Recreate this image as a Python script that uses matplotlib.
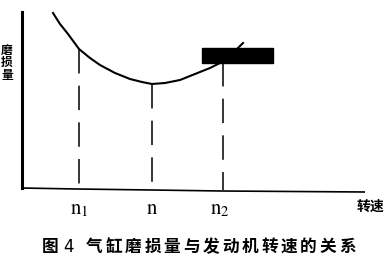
import matplotlib
matplotlib.use("Agg")
import matplotlib.pyplot as plt
from matplotlib.patches import Rectangle

plt.rcParams['font.family'] = ['Noto Sans CJK SC', 'DejaVu Sans']
plt.rcParams['mathtext.fontset'] = 'stix'

# Data (speed vs wear)
speed = [31, 38, 46, 57, 68, 78, 93, 108, 120, 130, 143, 158, 173, 188, 200, 210, 221]
wear = [175, 164, 154, 139, 130, 123, 115, 109, 106, 104, 105, 108, 114, 120, 126, 134, 145]
marks = [57, 130, 201]
mark_wear = [139, 104, 126]
mark_labels = [r'$\mathrm{n}_1$', r'$\mathrm{n}$', r'$\mathrm{n}_2$']
ylabel_chars = ['磨', '损', '量']
xlabel = '转速'
caption_head = ['图', '4']
caption_chars = list('气缸磨损量与发动机转速的关系')
box = (180, 125, 71, 15)  # redaction block (x, y, w, h)

W, H = 388, 264
fig = plt.figure(figsize=(W / 100, H / 100), dpi=100)
ax = fig.add_axes([22 / W, 76 / H, 343 / W, 176 / H])
ax.set_xlim(0, 343)
ax.set_ylim(0, 176)
for s in ['top', 'right', 'bottom']:
    ax.spines[s].set_visible(False)
ax.spines['left'].set_linewidth(2.2)
ax.set_xticks([])
ax.set_yticks([])
ax.patch.set_alpha(0)

# x axis (slightly slanted as in the scan)
ax.plot([-1, 55, 130, 200, 343], [0, -1, -2, -3, -4], color='black', lw=1.2,
        clip_on=False, solid_capstyle='butt')

# curve
ax.plot(speed, wear, color='black', lw=1.5, clip_on=False)

# dashed guide lines
for m, w in zip(marks, mark_wear):
    ax.plot([m, m], [w, -2], color='black', lw=1.1, linestyle=(0, (16, 8)),
            clip_on=False)

ax.add_patch(Rectangle((box[0], box[1]), box[2], box[3], facecolor='black',
                       edgecolor='black', zorder=5))

def fx(px):
    return px / W

def fy(py):
    return 1 - py / H

# tick labels
label_px = [79, 152, 220]
for lx, lab in zip(label_px, mark_labels):
    fig.text(fx(lx), fy(208), lab, fontsize=15, ha='center', va='center')

# y label stacked vertically
for i, ch in enumerate(ylabel_chars):
    fig.text(fx(7), fy(50 + i * 12.5), ch, fontsize=8.5, fontweight='bold',
             ha='center', va='center')

fig.text(fx(370), fy(207), xlabel, fontsize=10, fontweight='bold',
         ha='center', va='center')

# caption
fig.text(fx(50), fy(247), caption_head[0], fontsize=12, fontweight='bold',
         ha='center', va='center')
fig.text(fx(68), fy(247), caption_head[1], fontsize=12, ha='center',
         va='center', family='DejaVu Sans')
for i, ch in enumerate(caption_chars):
    fig.text(fx(94 + i * 19.5), fy(247), ch, fontsize=12, fontweight='bold',
             ha='center', va='center')

fig.savefig('out.png', dpi=100, facecolor='white')
